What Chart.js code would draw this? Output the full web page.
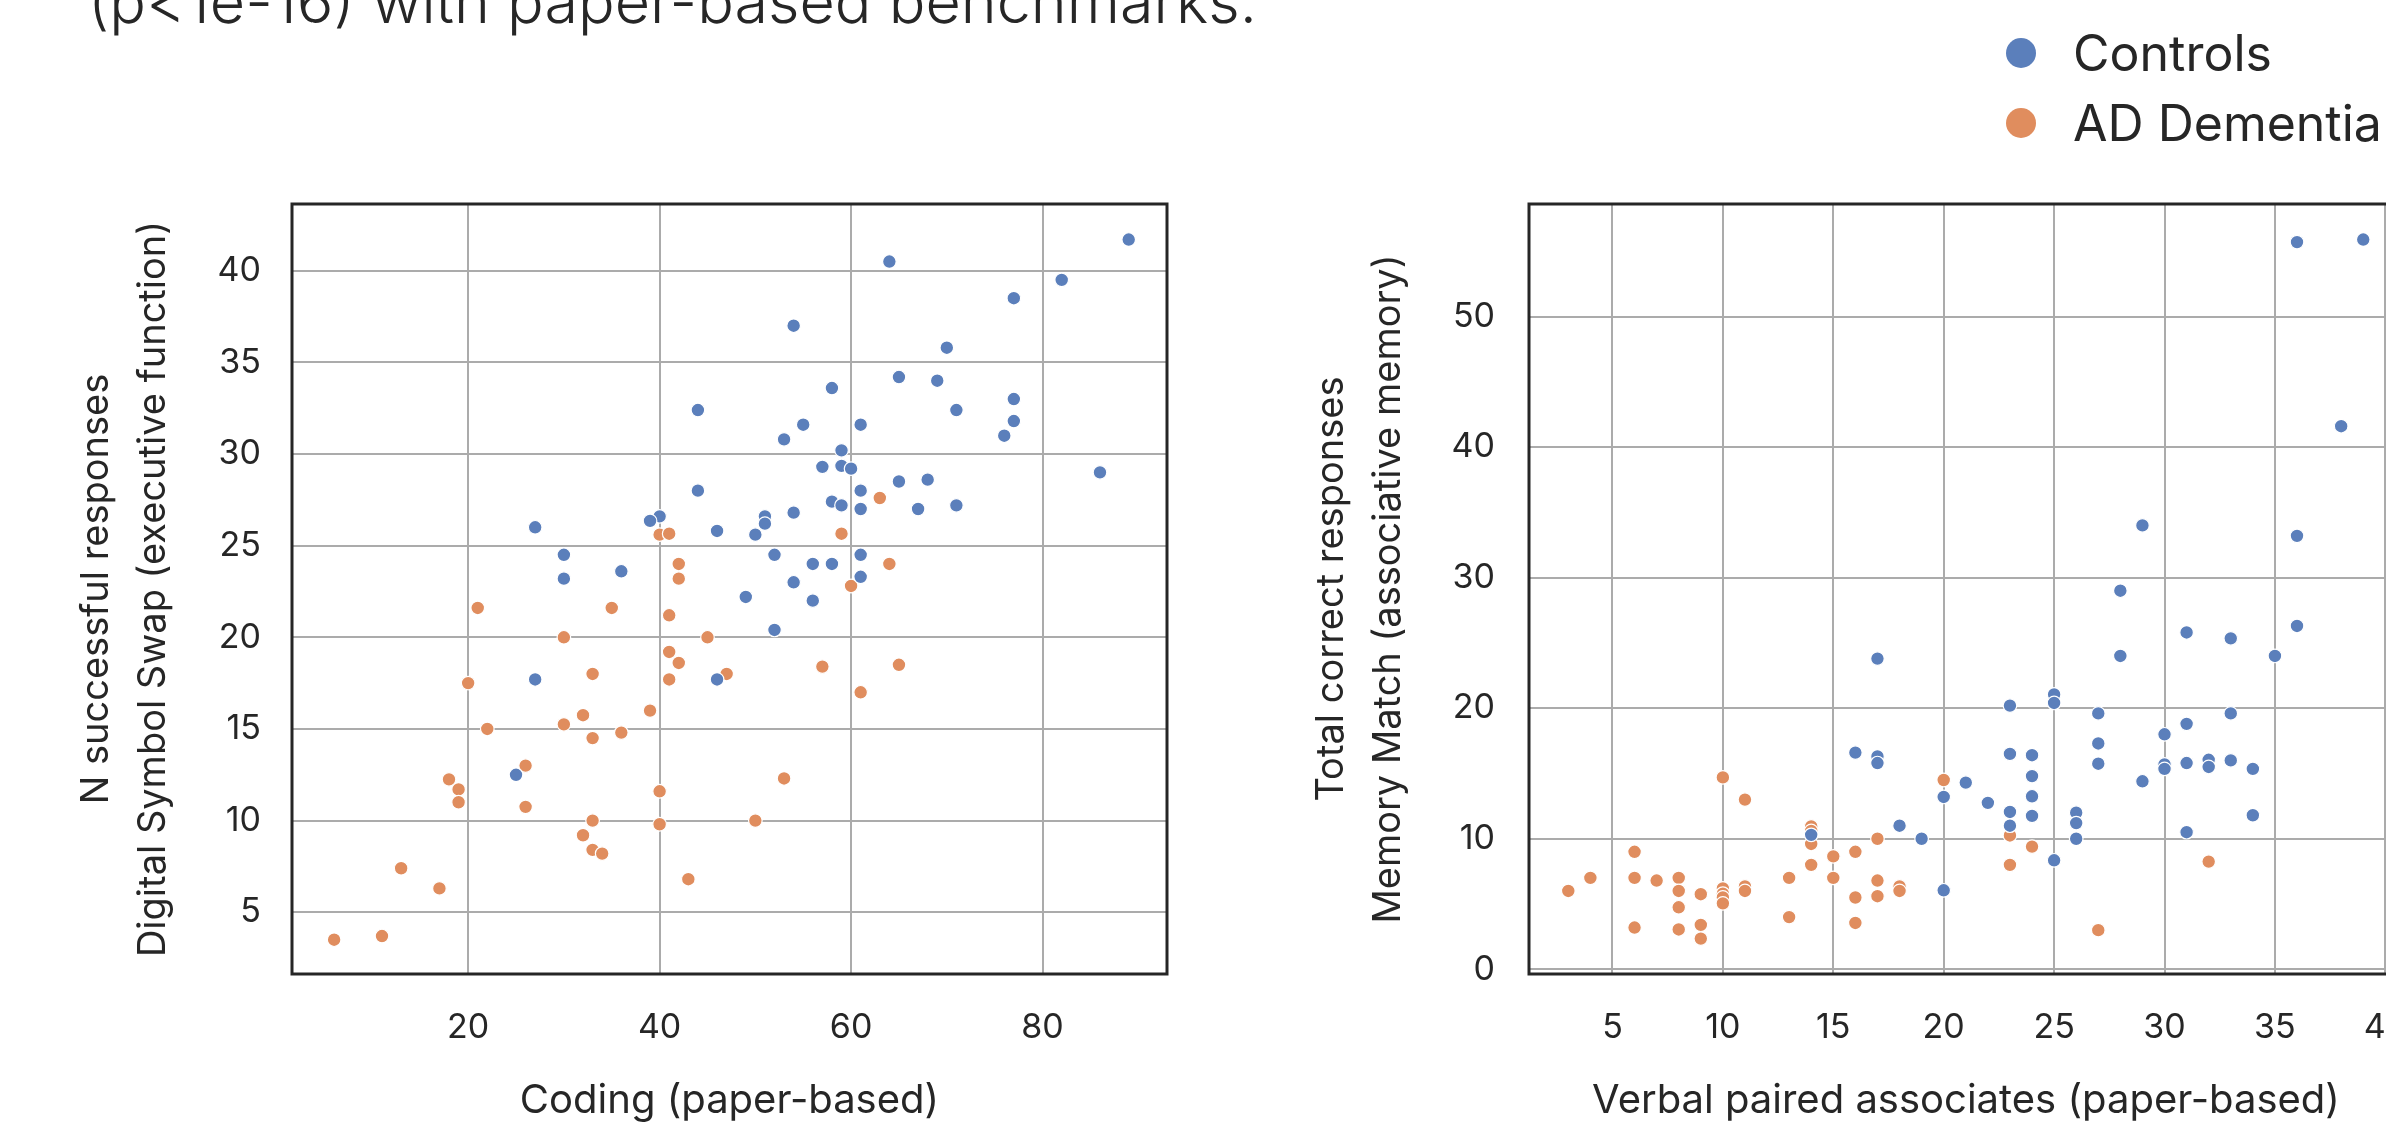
<!DOCTYPE html>
<html>
<head>
<meta charset="utf-8">
<script src="https://cdn.jsdelivr.net/npm/chart.js@4.4.1/dist/chart.umd.min.js"></script>
<style>
  html, body { margin: 0; padding: 0; background: #fff; }
  body { width: 2386px; height: 1127px; overflow: hidden; position: relative; font-family: Inter, sans-serif; color: #262626; }
  #title { position: absolute; left: 88px; top: -29px; font-size: 61px; font-weight: 300; line-height: 60px; white-space: nowrap; }
  #legend { position: absolute; left: 2006px; top: 18px; }
  .item { display: flex; align-items: center; height: 70px; font-size: 50px; white-space: nowrap; }
  .dot { width: 30px; height: 30px; border-radius: 50%; margin-right: 37px; flex: none; }
  canvas { position: absolute; top: 0; }
  #left { left: 0; }
  #right { left: 1200px; }
</style>
</head>
<body>
<div id="title">(p&lt;1e-16) with paper-based benchmarks.</div>
<div id="legend"></div>
<canvas id="left" width="1200" height="1127"></canvas>
<canvas id="right" width="1250" height="1127"></canvas>
<script>
const seriesNames = ['Controls', 'AD Dementia'];
const seriesColors = ['#5b7fbb', '#e08d5e'];

// panneau gauche : Coding (papier) vs Digital Symbol Swap
const codingControls = [54, 58, 44, 55, 61, 53, 59, 57, 59, 60, 44, 61, 58, 59, 61, 54, 51, 51, 40, 39,
  27, 46, 50, 30, 30, 36, 52, 56, 58, 61, 61, 54, 49, 56, 52, 27, 46, 25, 89, 64,
  82, 77, 70, 65, 69, 77, 71, 77, 76, 86, 65, 68, 67, 71];
const symbolSwapControls = [37.0, 33.6, 32.4, 31.6, 31.6, 30.8, 30.2, 29.3, 29.35, 29.2, 28.0, 28.0, 27.4, 27.2, 27.0, 26.8, 26.6, 26.2, 26.6, 26.35,
  26.0, 25.8, 25.6, 24.5, 23.2, 23.6, 24.5, 24.0, 24.0, 24.5, 23.3, 23.0, 22.2, 22.0, 20.4, 17.7, 17.7, 12.5, 41.7, 40.5,
  39.5, 38.5, 35.8, 34.2, 34.0, 33.0, 32.4, 31.8, 31.0, 29.0, 28.5, 28.6, 27.0, 27.2];
const codingAD = [63, 40, 41, 59, 42, 42, 60, 21, 35, 41, 30, 45, 41, 42, 41, 20, 33, 47, 57, 61,
  39, 32, 30, 22, 36, 33, 26, 18, 19, 19, 26, 53, 40, 33, 40, 50, 32, 33, 34, 13,
  17, 43, 6, 11, 64, 65];
const symbolSwapAD = [27.6, 25.6, 25.65, 25.65, 24.0, 23.2, 22.8, 21.6, 21.6, 21.2, 20.0, 20.0, 19.2, 18.6, 17.7, 17.5, 18.0, 18.0, 18.4, 17.0,
  16.0, 15.75, 15.25, 15.0, 14.8, 14.5, 13.0, 12.25, 11.7, 11.0, 10.75, 12.3, 11.6, 10.0, 9.8, 10.0, 9.2, 8.4, 8.2, 7.4,
  6.3, 6.8, 3.5, 3.7, 24.0, 18.5];

// panneau droit : Verbal paired associates vs Memory Match
const vpaControls = [36, 39, 38, 29, 36, 28, 31, 33, 28, 35, 36, 17, 25, 25, 23, 27, 33, 31, 30, 27,
  16, 17, 17, 23, 24, 27, 30, 30, 31, 32, 32, 33, 34, 24, 29, 21, 20, 24, 22, 23,
  24, 26, 26, 34, 23, 18, 19, 14, 26, 31, 25, 20];
const memoryMatchControls = [55.7, 55.9, 41.6, 34.0, 33.2, 29.0, 25.8, 25.35, 24.0, 24.0, 26.3, 23.8, 21.05, 20.4, 20.2, 19.6, 19.6, 18.8, 18.0, 17.3,
  16.6, 16.3, 15.8, 16.5, 16.4, 15.75, 15.7, 15.35, 15.8, 16.05, 15.5, 16.0, 15.35, 14.8, 14.4, 14.3, 13.2, 13.25, 12.75, 12.05,
  11.75, 12.0, 11.2, 11.8, 11.0, 11.0, 10.0, 10.3, 10.0, 10.5, 8.35, 6.05];
const vpaAD = [20, 10, 11, 14, 14, 14, 17, 23, 24, 23, 32, 6, 4, 3, 6, 7, 8, 8, 8, 8,
  6, 9, 9, 9, 10, 10, 10, 10, 11, 11, 13, 13, 15, 15, 16, 14, 16, 16, 17, 17,
  18, 18, 27];
const memoryMatchAD = [14.5, 14.7, 13.0, 10.95, 10.6, 9.6, 10.0, 10.25, 9.4, 8.0, 8.25, 9.0, 7.0, 6.0, 7.0, 6.8, 7.0, 6.0, 4.75, 3.05,
  3.2, 5.75, 3.4, 2.35, 6.2, 5.8, 5.5, 5.05, 6.35, 6.0, 7.0, 4.0, 8.65, 7.0, 9.0, 8.0, 5.5, 3.55, 6.8, 5.6,
  6.35, 6.0, 3.0];

// graduations
const codingTicks = [20, 40, 60, 80];
const symbolSwapTicks = [5, 10, 15, 20, 25, 30, 35, 40];
const vpaTicks = [5, 10, 15, 20, 25, 30, 35, 40];
const memoryMatchTicks = [0, 10, 20, 30, 40, 50];

const textColor = '#262626';
const fontFamily = 'Inter, sans-serif';

// legende commune en haut a droite
const legend = document.getElementById('legend');
seriesNames.forEach((name, i) => {
  const row = document.createElement('div');
  row.className = 'item';
  row.innerHTML = `<span class="dot" style="background:${seriesColors[i]}"></span>${name}`;
  legend.appendChild(row);
});

// cadre noir autour de la zone de trace
const framePlugin = {
  id: 'frame',
  afterDraw(chart) {
    const { ctx, chartArea: a } = chart;
    ctx.save();
    ctx.strokeStyle = textColor;
    ctx.lineWidth = 3;
    ctx.strokeRect(a.left, a.top, a.right - a.left, a.bottom - a.top);
    ctx.restore();
  }
};

function makePanel(id, p) {
  const toPoints = (xs, ys) => xs.map((x, i) => ({ x: x, y: ys[i] }));
  const grid = { color: '#ababab', lineWidth: 2, drawTicks: false };
  return new Chart(document.getElementById(id), {
    type: 'scatter',
    data: {
      datasets: [
        { label: seriesNames[0], data: toPoints(p.xCtrl, p.yCtrl), backgroundColor: seriesColors[0] },
        { label: seriesNames[1], data: toPoints(p.xAD, p.yAD), backgroundColor: seriesColors[1] }
      ]
    },
    options: {
      responsive: false,
      animation: false,
      layout: { padding: { left: 0, top: 204, right: p.padRight, bottom: 0 } },
      elements: { point: { radius: 6.8, hoverRadius: 6.8, borderWidth: 1.2, borderColor: '#ffffff' } },
      plugins: { legend: { display: false }, tooltip: { enabled: false } },
      scales: {
        x: {
          type: 'linear', min: p.xMin, max: p.xMax,
          afterBuildTicks: s => { s.ticks = p.xTicks.map(v => ({ value: v })); },
          afterFit: s => { s.height = 153; },
          grid: grid,
          border: { display: false },
          ticks: { padding: 33, color: textColor, font: { family: fontFamily, size: 34 } },
          title: { display: true, text: p.xTitle, color: textColor, padding: { top: 0, bottom: 2 },
                   font: { family: fontFamily, size: 40 } }
        },
        y: {
          type: 'linear', min: p.yMin, max: p.yMax,
          afterBuildTicks: s => { s.ticks = p.yTicks.map(v => ({ value: v })); },
          afterFit: s => { s.width = p.yWidth; },
          grid: grid,
          border: { display: false },
          ticks: { padding: p.yTickPad, color: textColor, font: { family: fontFamily, size: 34 } },
          title: { display: true, text: p.yTitle, color: textColor, padding: { top: p.yTitlePad, bottom: 0 },
                   font: { family: fontFamily, size: 38, lineHeight: 57 / 38 } }
        }
      }
    },
    plugins: [framePlugin]
  });
}

makePanel('left', {
  xCtrl: codingControls, yCtrl: symbolSwapControls, xAD: codingAD, yAD: symbolSwapAD,
  xMin: 1.6, xMax: 93.0, yMin: 1.63, yMax: 43.64,
  xTicks: codingTicks, yTicks: symbolSwapTicks,
  xTitle: 'Coding (paper-based)',
  yTitle: ['N successful responses', 'Digital Symbol Swap (executive function)'],
  padRight: 33, yWidth: 292, yTickPad: 31, yTitlePad: 68.5
});

makePanel('right', {
  xCtrl: vpaControls, yCtrl: memoryMatchControls, xAD: vpaAD, yAD: memoryMatchAD,
  xMin: 1.22, xMax: 40.8, yMin: -0.36, yMax: 58.62,
  xTicks: vpaTicks, yTicks: memoryMatchTicks,
  xTitle: 'Verbal paired associates (paper-based)',
  yTitle: ['Total correct responses', 'Memory Match (associative memory)'],
  padRight: 47, yWidth: 329, yTickPad: 34, yTitlePad: 103.5
});
</script>
</body>
</html>
